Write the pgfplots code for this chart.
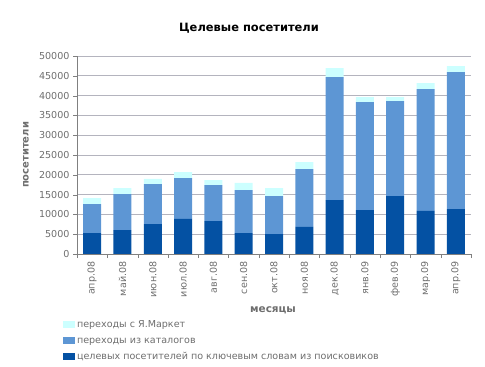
\documentclass[border=0pt]{standalone}
\usepackage{pgfplots}
\pgfplotsset{compat=1.18}
\usepackage{fontspec}
\setmainfont{DejaVu Sans}
\definecolor{cdark}{RGB}{4,81,163}
\definecolor{cmid}{RGB}{93,150,212}
\definecolor{clight}{RGB}{204,255,255}
\definecolor{cgrid}{RGB}{180,180,190}
\definecolor{caxis}{RGB}{128,128,128}
\definecolor{ctext}{RGB}{110,110,110}
\begin{document}
\begin{tikzpicture}
\useasboundingbox (0,0) rectangle (485bp,367bp);
\begin{axis}[
  at={(77bp,113bp)}, anchor=south west,
  scale only axis, width=394bp, height=198bp,
  ybar stacked, bar width=18bp,
  xmin=-0.5, xmax=12.5, ymin=0, ymax=50000,
  axis x line=bottom, axis y line=left,
  axis line style={caxis, -},
  ytick={0,5000,...,50000},
  ymajorgrids, grid style={cgrid, line width=0.8pt},
  scaled y ticks=false,
  /pgf/number format/.cd, use comma, 1000 sep={}, assume math mode=true, /pgfplots/.cd,
  xtick={0,...,12},
  xticklabels={апр.08,май.08,июн.08,июл.08,авг.08,сен.08,окт.08,ноя.08,дек.08,янв.09,фев.09,мар.09,апр.09},
  x tick label style={rotate=90, anchor=east, font=\fontsize{9.6}{11}\selectfont, text=ctext},
  y tick label style={font=\fontsize{9.6}{11}\selectfont, text=ctext},
  minor xtick={-0.5,0.5,...,12.5},
  major x tick style={draw=none},
  minor x tick style={caxis},
  minor tick length=4bp,
  major tick length=4bp,
  tick align=outside,
  y tick style={caxis},
  legend style={at={(-0.036,-0.322)}, anchor=north west, draw=none, fill=none,
    font=\fontsize{9.6}{11}\selectfont, text=ctext, row sep=2bp, inner sep=0pt,
    nodes={text height=7.5bp, text depth=2.5bp},
    legend cell align=left},
  legend image code/.code={\fill[#1] (0bp,-3.5bp) rectangle (12bp,3.5bp);},
  reverse legend,
]
\addplot[fill=cdark, draw=none] coordinates {(0,5300) (1,6060) (2,7575) (3,8840) (4,8330) (5,5300) (6,5050) (7,6820) (8,13635) (9,11110) (10,14645) (11,10860) (12,11360)};
\addplot[fill=cmid, draw=none] coordinates {(0,7325) (1,9090) (2,10100) (3,10350) (4,9090) (5,10860) (6,9595) (7,14640) (8,31055) (9,27270) (10,23985) (11,30800) (12,34595)};
\addplot[fill=clight, draw=none] coordinates {(0,1515) (1,1515) (2,1265) (3,1510) (4,1265) (5,1770) (6,2020) (7,1770) (8,2275) (9,1260) (10,1010) (11,1520) (12,1515)};
\legend{целевых посетителей по ключевым словам из поисковиков, переходы из каталогов, переходы с Я.Маркет}
\end{axis}
\node[font=\bfseries\fontsize{11.5}{13}\selectfont] at (249bp,339bp) {Целевые посетители};
\node[font=\bfseries\fontsize{10}{12}\selectfont, text=ctext, rotate=90] at (26bp,212bp) {посетители};
\node[font=\bfseries\fontsize{10.5}{12}\selectfont, text=ctext] at (273bp,57bp) {месяцы};
\end{tikzpicture}
\end{document}
